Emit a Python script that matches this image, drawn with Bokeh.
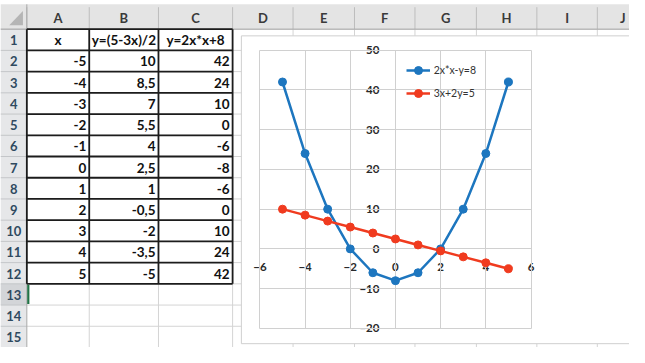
from bokeh.plotting import figure
from bokeh.models import (Range1d, LinearAxis, FixedTicker, Grid, Legend,
                          LegendItem)
from bokeh.core.properties import value
from bokeh.embed import file_html
from bokeh.resources import INLINE

# ---------------- data ----------------
x_vals = [-5, -4, -3, -2, -1, 0, 1, 2, 3, 4, 5]
y_line = [10, 8.5, 7, 5.5, 4, 2.5, 1, -0.5, -2, -3.5, -5]        # y=(5-3x)/2
y_parab = [42, 24, 10, 0, -6, -8, -6, 0, 10, 24, 42]             # y=2x*x-8
header_texts = ["x", "y=(5-3x)/2", "y=2x*x+8"]
col_letters = ["A", "B", "C", "D", "E", "F", "G", "H", "I", "J"]
row_numbers = list(range(1, 16))
series_names = ["2x*x-y=8", "3x+2y=5"]
x_axis_ticks = [-6, -4, -2, 0, 2, 4, 6]
y_axis_ticks = [-20, -10, 0, 10, 20, 30, 40, 50]

# ---------------- layout (sheet pixel units) ----------------
W, H = 629, 347
SW, SH = 645.0, 363.0
sx, sy = W / SW, H / SH
ROWHDR_W = 27
col_widths = [64, 71, 76, 62, 63, 62, 63, 62, 62, 63]
bounds = [ROWHDR_W]
for w in col_widths:
    bounds.append(bounds[-1] + w)
HDR_TOP, HDR_BOT = 4, 30
ROW_H = 22.2
row_bounds = [HDR_BOT + ROW_H * i for i in range(16)]

BOX_L, BOX_T, BOX_B = 247, 37, 359
PX0, PX1, PY_T, PY_B = 266, 544, 52, 343
XMIN, XMAX, YMIN, YMAX = -6, 6, -20, 50

FONT = "Lato"
GRID_C = "#d4d4d4"

p = figure(width=W, height=H, x_range=Range1d(0, SW), y_range=Range1d(SH, 0),
           x_axis_type=None, y_axis_type=None, toolbar_location=None,
           output_backend="svg", min_border=0, outline_line_color=None,
           background_fill_color="white", border_fill_color="white", title=None)

ux = (PX1 - PX0) / (XMAX - XMIN)
uy = (PY_B - PY_T) / (YMAX - YMIN)
p.extra_x_ranges = {"cx": Range1d(XMIN - PX0 / ux, XMAX + (SW - PX1) / ux)}
p.extra_y_ranges = {"cy": Range1d(YMIN - (SH - PY_B) / uy, YMAX + PY_T / uy)}

LV = "image"

# header band and row-header column
r = p.quad(left=[0], right=[SW], top=[HDR_TOP], bottom=[HDR_BOT],
           fill_color="#e4e4e4", line_color=None); r.level = LV
r = p.quad(left=[0], right=[ROWHDR_W], top=[HDR_BOT], bottom=[SH],
           fill_color="#e6e7e9", line_color=None); r.level = LV
r = p.quad(left=[0], right=[ROWHDR_W], top=[row_bounds[12]], bottom=[row_bounds[13]],
           fill_color="#d3d5d8", line_color=None); r.level = LV

# sheet gridlines
r = p.segment(x0=bounds[1:], y0=[HDR_BOT] * (len(bounds) - 1),
              x1=bounds[1:], y1=[SH] * (len(bounds) - 1),
              line_color=GRID_C, line_width=1); r.level = LV
r = p.segment(x0=[ROWHDR_W] * 16, y0=row_bounds, x1=[SW] * 16, y1=row_bounds,
              line_color=GRID_C, line_width=1); r.level = LV
# header separators
r = p.segment(x0=bounds, y0=[HDR_TOP + 3] * len(bounds), x1=bounds,
              y1=[HDR_BOT] * len(bounds), line_color="#bdbdbd", line_width=1); r.level = LV
r = p.segment(x0=[0] * 16, y0=row_bounds, x1=[ROWHDR_W] * 16, y1=row_bounds,
              line_color="#c4c6c9", line_width=1); r.level = LV
r = p.segment(x0=[0, ROWHDR_W], y0=[HDR_BOT, HDR_TOP], x1=[SW, ROWHDR_W], y1=[HDR_BOT, SH],
              line_color="#a9a9a9", line_width=1); r.level = LV
# corner triangle
r = p.patch(x=[23, 23, 9], y=[11, 26, 26], fill_color="#b5b5b5", line_color=None); r.level = LV

# table borders A1:C12
tb = bounds[:4]
r = p.segment(x0=tb, y0=[row_bounds[0]] * 4, x1=tb, y1=[row_bounds[12]] * 4,
              line_color="#1c1c1c", line_width=1.8); r.level = LV
r = p.segment(x0=[tb[0]] * 13, y0=row_bounds[:13], x1=[tb[-1]] * 13, y1=row_bounds[:13],
              line_color="#1c1c1c", line_width=1.8); r.level = LV
# selected cell A13 marker
r = p.segment(x0=[ROWHDR_W + 1.5], y0=[row_bounds[12] + 1], x1=[ROWHDR_W + 1.5],
              y1=[row_bounds[13] - 1], line_color="#217346", line_width=2.2); r.level = LV

# header letters (the last, partly hidden column letter kept inside the page)
letter_x = [min((bounds[i] + bounds[i + 1]) / 2, SW - 7) for i in range(len(col_letters))]
r = p.text(x=letter_x,
           y=[(HDR_TOP + HDR_BOT) / 2 + 1] * len(col_letters), text=col_letters,
           text_font=value(FONT), text_font_style="bold", text_font_size="13px",
           text_color="#3a3a3a", text_align="center", text_baseline="middle"); r.level = LV
# row numbers
r = p.text(x=[ROWHDR_W / 2] * len(row_numbers),
           y=[row_bounds[i] + ROW_H / 2 + 0.5 for i in range(len(row_numbers))],
           text=[str(n) for n in row_numbers],
           text_font=value(FONT), text_font_style="bold", text_font_size="13px",
           text_color="#2f4a60", text_align="center", text_baseline="middle"); r.level = LV
# header row
r = p.text(x=[(bounds[i] + bounds[i + 1]) / 2 for i in range(3)],
           y=[row_bounds[0] + ROW_H / 2 + 0.5] * 3, text=header_texts,
           text_font=value(FONT), text_font_style="bold", text_font_size="13.5px",
           text_color="#111111", text_align="center", text_baseline="middle"); r.level = LV


def fmt(v):
    return f"{v:g}".replace(".", ",")


cols = [x_vals, y_line, y_parab]
tx, ty, tt = [], [], []
for c, vals in enumerate(cols):
    for i, v in enumerate(vals):
        tx.append(bounds[c + 1] - 3)
        ty.append(row_bounds[i + 1] + ROW_H / 2 + 0.5)
        tt.append(fmt(v))
r = p.text(x=tx, y=ty, text=tt, text_font=value(FONT), text_font_style="bold",
           text_font_size="13.5px", text_color="#111111", text_align="right",
           text_baseline="middle"); r.level = LV

# chart box
r = p.quad(left=[BOX_L], right=[SW + 20], top=[BOX_T], bottom=[BOX_B],
           fill_color="white", line_color="#cfcfcf", line_width=1); r.level = LV

# chart gridlines
gx = Grid(dimension=0, ticker=FixedTicker(ticks=x_axis_ticks), x_range_name="cx",
          y_range_name="cy", bounds=(XMIN, XMAX), cross_bounds=(YMIN, YMAX),
          grid_line_color="#d0d0d0", grid_line_width=1)
gy = Grid(dimension=1, ticker=FixedTicker(ticks=y_axis_ticks), x_range_name="cx",
          y_range_name="cy", bounds=(YMIN, YMAX), cross_bounds=(XMIN, XMAX),
          grid_line_color="#d0d0d0", grid_line_width=1)
p.add_layout(gx)
p.add_layout(gy)

axis_kw = dict(x_range_name="cx", y_range_name="cy", fixed_location=0,
               axis_line_color="#bfbfbf", axis_line_width=1,
               major_tick_line_color=None, minor_tick_line_color=None,
               major_label_text_font=FONT, major_label_text_font_style="bold",
               major_label_text_font_size="11.5px", major_label_text_color="#2a2a2a")
xaxis = LinearAxis(bounds=(XMIN, XMAX), ticker=FixedTicker(ticks=x_axis_ticks),
                   major_label_standoff=8, **axis_kw)
yaxis = LinearAxis(bounds=(YMIN, YMAX), ticker=FixedTicker(ticks=y_axis_ticks),
                   major_label_standoff=10, **axis_kw)
xaxis.level = "underlay"
yaxis.level = "underlay"
p.add_layout(xaxis, "below")
p.add_layout(yaxis, "left")

BLUE = "#1d76bf"
RED = "#f03b1f"
bl = p.line(x_vals, y_parab, line_color=BLUE, line_width=2.5, x_range_name="cx", y_range_name="cy")
bs = p.scatter(x_vals, y_parab, size=8, fill_color=BLUE, line_color=BLUE, x_range_name="cx", y_range_name="cy")
rl = p.line(x_vals, y_line, line_color=RED, line_width=2.5, x_range_name="cx", y_range_name="cy")
rs = p.scatter(x_vals, y_line, size=8, fill_color=RED, line_color=RED, x_range_name="cx", y_range_name="cy")

LEG_X, LEG_Y1 = 416, 73
GH, SP = 20, 3
leg_h = 2 * GH + SP
leg_top = LEG_Y1 * sy - GH / 2
legend = Legend(items=[LegendItem(label=series_names[0], renderers=[bl, bs]),
                       LegendItem(label=series_names[1], renderers=[rl, rs])],
                location=(LEG_X * sx, H - (leg_top + leg_h)), orientation="vertical",
                glyph_width=24, glyph_height=GH, label_height=GH, label_standoff=4,
                spacing=SP, padding=0, margin=0, background_fill_alpha=0,
                border_line_color=None, label_text_font=FONT,
                label_text_font_size="10.5px", label_text_color="#333333")
p.add_layout(legend)

open("out.html", "w").write(file_html(p, INLINE))
